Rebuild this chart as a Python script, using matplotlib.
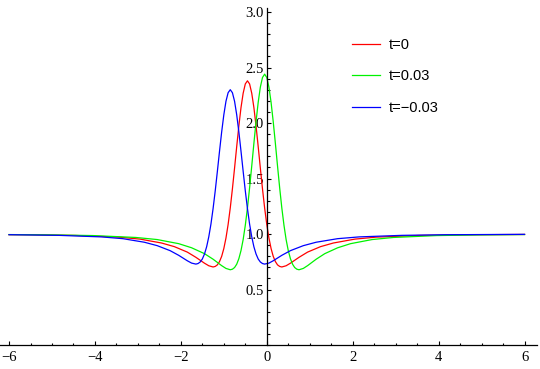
import matplotlib
matplotlib.use('Agg')
import matplotlib.pyplot as plt
from matplotlib.ticker import MultipleLocator, FixedLocator

# values (x, y) for each curve
red_x = [-6.0, -5.45, -4.45, -3.45, -2.95, -2.45, -2.15, -1.85, -1.65, -1.45,
         -1.35, -1.25, -1.2, -1.15, -1.1, -1.05, -1.0, -0.95, -0.9, -0.85,
         -0.8, -0.75, -0.7, -0.65, -0.6, -0.55, -0.5, -0.45, -0.4, -0.35,
         -0.3, -0.25, -0.2, -0.15, -0.1, -0.05, 0.0, 0.05, 0.1, 0.15,
         0.2, 0.25, 0.3, 0.35, 0.45, 0.55, 0.75, 0.95, 1.25, 1.55,
         2.05, 2.55, 3.55, 4.55, 6.0]
red_y = [0.994, 0.993, 0.987, 0.972, 0.954, 0.919, 0.886, 0.837, 0.790, 0.737,
         0.714, 0.703, 0.708, 0.722, 0.752, 0.799, 0.869, 0.964, 1.086, 1.235,
         1.407, 1.594, 1.788, 1.974, 2.139, 2.268, 2.352, 2.380, 2.352, 2.268,
         2.139, 1.974, 1.788, 1.594, 1.407, 1.235, 1.086, 0.964, 0.869, 0.799,
         0.752, 0.722, 0.708, 0.703, 0.714, 0.737, 0.790, 0.837, 0.886, 0.919,
         0.954, 0.972, 0.987, 0.993, 0.996]

green_x = [-6.0, -5.05, -4.05, -3.05, -2.55, -2.05, -1.75, -1.45, -1.25, -1.05,
           -0.95, -0.85, -0.8, -0.75, -0.7, -0.65, -0.6, -0.55, -0.5, -0.45,
           -0.4, -0.35, -0.3, -0.25, -0.2, -0.15, -0.1, -0.05, 0.0, 0.05,
           0.1, 0.15, 0.2, 0.25, 0.3, 0.35, 0.4, 0.45, 0.5, 0.55,
           0.6, 0.65, 0.7, 0.75, 0.85, 0.95, 1.15, 1.35, 1.65, 1.95,
           2.45, 2.95, 3.95, 4.95, 6.0]
green_y = [0.995, 0.992, 0.986, 0.969, 0.950, 0.913, 0.876, 0.823, 0.773, 0.715,
           0.690, 0.678, 0.683, 0.698, 0.728, 0.778, 0.851, 0.950, 1.079, 1.235,
           1.416, 1.613, 1.817, 2.012, 2.186, 2.323, 2.410, 2.440, 2.410, 2.323,
           2.186, 2.012, 1.817, 1.613, 1.416, 1.235, 1.079, 0.950, 0.851, 0.778,
           0.728, 0.698, 0.683, 0.678, 0.690, 0.715, 0.773, 0.823, 0.876, 0.913,
           0.950, 0.969, 0.986, 0.992, 0.995]

blue_x = [-6.0, -4.85, -3.85, -3.35, -2.85, -2.55, -2.25, -2.05, -1.85,
          -1.75, -1.65, -1.6, -1.55, -1.5, -1.45, -1.4, -1.35, -1.3, -1.25,
          -1.2, -1.15, -1.1, -1.05, -1.0, -0.95, -0.9, -0.85, -0.8, -0.75,
          -0.7, -0.65, -0.6, -0.55, -0.5, -0.45, -0.4, -0.35, -0.3, -0.25,
          -0.2, -0.15, -0.1, -0.05, 0.05, 0.15, 0.35, 0.55, 0.85, 1.15,
          1.65, 2.15, 3.15, 4.15, 6.0]
blue_y = [0.994, 0.988, 0.974, 0.958, 0.926, 0.895, 0.850, 0.808, 0.759,
          0.738, 0.729, 0.734, 0.748, 0.775, 0.820, 0.885, 0.975, 1.089, 1.229,
          1.389, 1.565, 1.746, 1.920, 2.074, 2.196, 2.273, 2.300, 2.273, 2.196,
          2.074, 1.920, 1.746, 1.565, 1.389, 1.229, 1.089, 0.975, 0.885, 0.820,
          0.775, 0.748, 0.734, 0.729, 0.738, 0.759, 0.808, 0.850, 0.895, 0.926,
          0.958, 0.974, 0.988, 0.9935, 0.997]

labels = ['t=0', 't=0.03', 't=\u22120.03']
y_majors = [0.5, 1.0, 1.5, 2.0, 2.5, 3.0]

plt.rcParams['font.family'] = 'Liberation Serif'

fig = plt.figure(figsize=(5.4, 3.69), dpi=100)
ax = fig.add_axes([0.0, 0.065, 537 / 540, 0.9133])

ax.plot(red_x, red_y, color=(1, 0, 0), lw=0.9, label=labels[0])
ax.plot(green_x, green_y, color=(0, 0.95, 0), lw=0.9, label=labels[1])
ax.plot(blue_x, blue_y, color=(0, 0, 1), lw=0.9, label=labels[2])

ax.set_xlim(-6.21, 6.29)
ax.set_ylim(0, 3.036)

# axes through the origin, Mathematica style
ax.spines['left'].set_position(('data', 0))
ax.spines['bottom'].set_position(('data', 0))
ax.spines['top'].set_visible(False)
ax.spines['right'].set_visible(False)
for sp in ('left', 'bottom'):
    ax.spines[sp].set_linewidth(0.9)

ax.xaxis.set_major_locator(MultipleLocator(2))
ax.xaxis.set_minor_locator(MultipleLocator(0.5))
ax.yaxis.set_major_locator(FixedLocator(y_majors))
ax.yaxis.set_minor_locator(MultipleLocator(0.1))
ax.yaxis.set_major_formatter(plt.FormatStrFormatter('%.1f'))

ax.tick_params(which='both', direction='in', width=0.8, labelsize=10.5)
ax.tick_params(which='major', length=3.2)
ax.tick_params(which='minor', length=1.8)
ax.tick_params(axis='x', pad=4)
ax.tick_params(axis='y', pad=2)

leg = ax.legend(loc='upper left', bbox_to_anchor=(352 / 540, 1 - 38 / 369),
                bbox_transform=fig.transFigure, frameon=False,
                prop={'family': 'Liberation Sans', 'size': 10.5},
                handlelength=1.9, handletextpad=0.65, labelspacing=1.2,
                borderpad=0, borderaxespad=0)
for line in leg.get_lines():
    line.set_linewidth(0.9)

fig.savefig('out.png', dpi=100)
